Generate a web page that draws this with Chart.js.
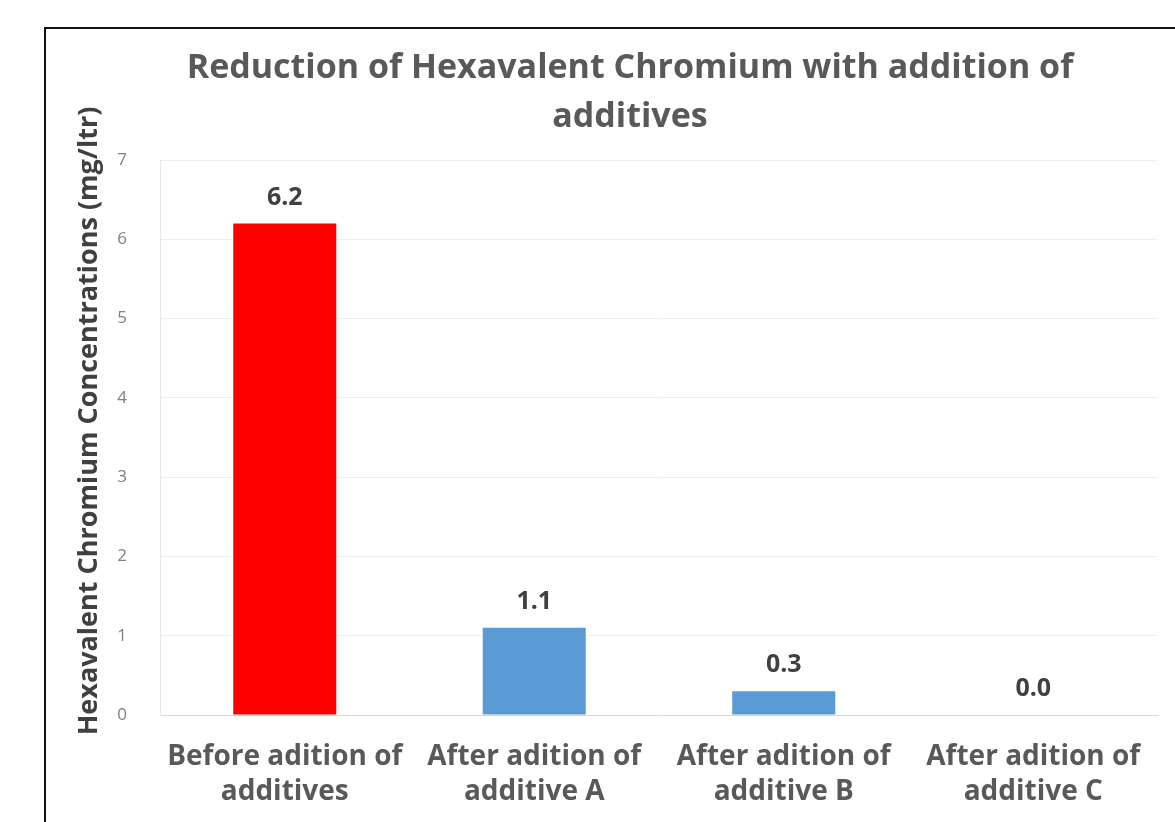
<!DOCTYPE html>
<html>
<head>
<meta charset="utf-8">
<script src="https://cdn.jsdelivr.net/npm/chart.js@4/dist/chart.umd.min.js"></script>
<style>
  html, body { margin: 0; padding: 0; background: #fff; overflow: hidden; width: 1175px; height: 822px; }
  #frame { position: absolute; left: 44px; top: 27px; border-left: 2px solid #111; border-top: 2px solid #111; background: #fff; }
  #frame canvas { display: block; }
</style>
</head>
<body>
<div id="frame"><canvas id="chart" width="1168" height="800"></canvas></div>
<script>
// Hexavalent chromium before and after each additive (mg/ltr)
const categories = [
  ["Before adition of", "additives"],
  ["After adition of", "additive A"],
  ["After adition of", "additive B"],
  ["After adition of", "additive C"]
];
const concentrations = [6.2, 1.1, 0.3, 0.0];
const barColors = ["#FF0000", "#5B9BD5", "#5B9BD5", "#5B9BD5"];
const yMin = 0;
const yMax = 7;
const yStep = 1;
const yTitle = "Hexavalent Chromium Concentrations (mg/ltr)";

const FONT = "'Open Sans', 'Liberation Sans', sans-serif";

// Writes each bar's value just above it
const valueLabels = {
  id: 'valueLabels',
  afterDatasetsDraw(chart) {
    const { ctx } = chart;
    const meta = chart.getDatasetMeta(0);
    ctx.save();
    ctx.font = "bold 25px " + FONT;
    ctx.fillStyle = '#404040';
    ctx.textAlign = 'center';
    ctx.textBaseline = 'middle';
    meta.data.forEach((bar, i) => {
      ctx.fillText(concentrations[i].toFixed(1), bar.x, bar.y - 26);
    });
    ctx.restore();
  }
};

// Rotated value-axis title along the left edge
const sideTitle = {
  id: 'sideTitle',
  afterDraw(chart) {
    const { ctx } = chart;
    ctx.save();
    ctx.translate(43, 392);
    ctx.rotate(-Math.PI / 2);
    ctx.font = "bold 27px " + FONT;
    ctx.fillStyle = '#404040';
    ctx.textAlign = 'center';
    ctx.textBaseline = 'middle';
    ctx.fillText(yTitle, 0, 0);
    ctx.restore();
  }
};

new Chart(document.getElementById('chart'), {
  type: 'bar',
  data: {
    labels: categories,
    datasets: [{
      data: concentrations,
      backgroundColor: barColors,
      borderWidth: 0,
      categoryPercentage: 1.0,
      barPercentage: 0.413
    }]
  },
  options: {
    responsive: false,
    animation: false,
    devicePixelRatio: 1,
    layout: { padding: { left: 56, right: 56, top: 0, bottom: 0 } },
    plugins: {
      legend: { display: false },
      tooltip: { enabled: false },
      title: {
        display: true,
        text: ["Reduction of Hexavalent Chromium with addition of", "additives"],
        color: '#595959',
        font: { family: FONT, size: 34, weight: 'bold', lineHeight: '49px' },
        padding: { top: 14.5, bottom: 18.5 }
      }
    },
    scales: {
      x: {
        grid: { display: false, drawTicks: false },
        border: { display: true, color: '#d9d9d9', width: 1 },
        ticks: {
          color: '#595959',
          padding: 25,
          maxRotation: 0,
          autoSkip: false,
          font: { family: FONT, size: 28, weight: 'bold', lineHeight: '35px' }
        },
        afterFit(scale) { scale.height = 114; }
      },
      y: {
        min: yMin,
        max: yMax,
        grid: { color: '#efefef', drawTicks: false },
        border: { display: true, color: '#e8e8e8' },
        ticks: {
          stepSize: yStep,
          color: '#7f7f7f',
          padding: 33,
          font: { family: FONT, size: 17 }
        },
        afterFit(scale) { scale.width = 58; }
      }
    }
  },
  plugins: [valueLabels, sideTitle]
});
</script>
</body>
</html>
